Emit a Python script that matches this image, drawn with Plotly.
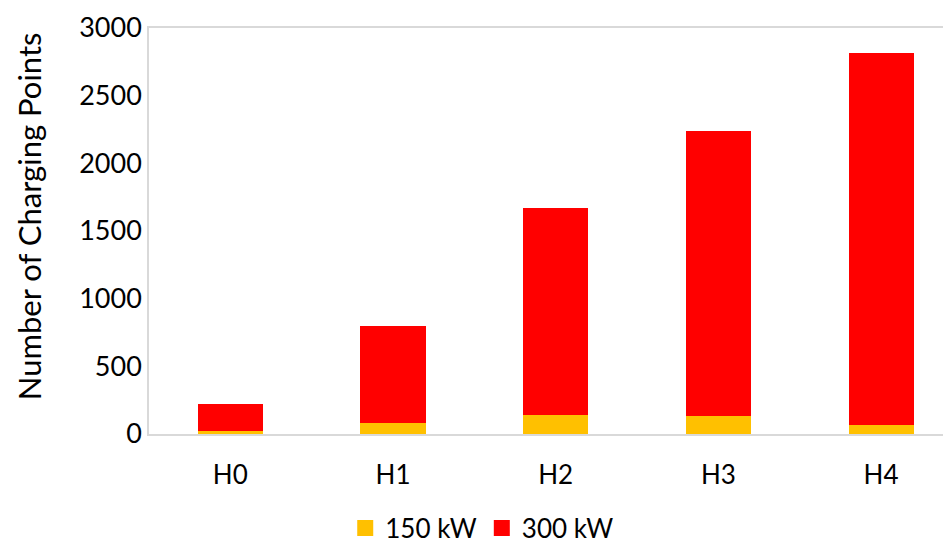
import plotly.graph_objects as go

categories = ["H0", "H1", "H2", "H3", "H4"]
kw150 = [22, 84, 138, 133, 64]
kw300 = [198, 711, 1531, 2106, 2754]
y_ticks = [0, 500, 1000, 1500, 2000, 2500, 3000]

YELLOW = "#FFC000"
RED = "#FF0000"
FONT = "Lato, 'Open Sans', sans-serif"

fig = go.Figure()
fig.add_trace(go.Bar(x=categories, y=kw150, name="150 kW", marker=dict(color=YELLOW, line=dict(width=0)), showlegend=False))
fig.add_trace(go.Bar(x=categories, y=kw300, name="300 kW", marker=dict(color=RED, line=dict(width=0)), showlegend=False))
# legend entries
fig.add_trace(go.Scatter(x=[None], y=[None], mode="markers", name="150 kW",
                         marker=dict(symbol="square", size=18, color=YELLOW)))
fig.add_trace(go.Scatter(x=[None], y=[None], mode="markers", name="300 kW",
                         marker=dict(symbol="square", size=18, color=RED)))

fig.update_layout(
    width=943, height=535,
    barmode="stack", bargap=0.6,
    plot_bgcolor="white", paper_bgcolor="white",
    margin=dict(l=141, r=0, t=20, b=109, autoexpand=False),
    font=dict(family=FONT, size=26, color="#000000"),
    showlegend=True,
    legend=dict(orientation="h", x=0.4155, xanchor="center", y=-0.232, yanchor="middle",
                font=dict(size=26), itemwidth=30, bgcolor="rgba(0,0,0,0)", traceorder="normal"),
    annotations=[dict(text="Number of Charging Points", textangle=-90, xref="paper", yref="paper",
                      x=-0.1496, y=0.5366, xanchor="center", yanchor="middle", showarrow=False,
                      font=dict(size=31))],
)
fig.update_xaxes(
    range=[-0.5, 4.43], showline=True, mirror=True, linecolor="#D9D9D9", linewidth=1.5,
    showgrid=False, ticks="", tickfont=dict(size=26), ticklabelstandoff=17,
)
fig.update_yaxes(
    range=[0, 3000], tickvals=y_ticks, showline=True, mirror=False, linecolor="#D9D9D9", linewidth=1.5,
    showgrid=False, ticks="", zeroline=False, tickfont=dict(size=27), ticklabelstandoff=0,
)

fig.write_html("out.html")
